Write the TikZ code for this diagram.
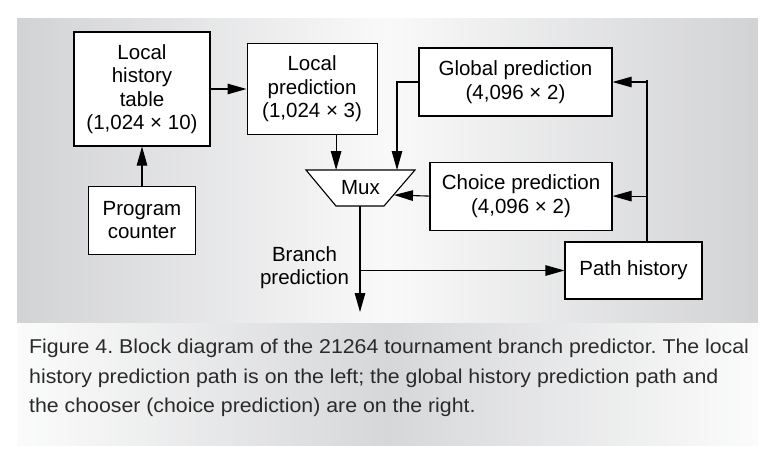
\documentclass[tikz,border=0pt]{standalone}
\usepackage{fontspec}
\setmainfont{Liberation Sans}
\newfontfamily\capfont[FakeStretch=1.065]{Liberation Sans}
\usetikzlibrary{arrows.meta,positioning,calc}
\definecolor{PanelGray}{HTML}{D2D3D5}
\definecolor{PanelLight}{HTML}{F9F9F9}
\definecolor{CapGray}{HTML}{D6D7D9}
\definecolor{CapLight}{HTML}{FBFBFB}
\definecolor{CapText}{HTML}{2A2A2A}
\frenchspacing
\tikzset{
  blockbox/.style={
    rectangle, draw=black, fill=white, line width=1.1pt,
    align=center, font=\fontsize{20.5}{23.5}\selectfont, inner sep=0pt
  },
  blocklabel/.style={align=center, font=\fontsize{20.5}{23}\selectfont, inner sep=0pt},
  sigline/.style={black, line width=1.1pt},
  sigarrow/.style={-{Triangle[length=19pt,width=10.5pt]}, black, line width=1.1pt},
  captext/.style={align=left, font=\capfont\fontsize{20}{29.5}\selectfont, text=CapText, inner sep=0pt},
}

\begin{document}
\begin{tikzpicture}[x=1pt,y=-1pt,node distance=36pt]
    \useasboundingbox (0,0) rectangle (773,463);
    % backgrounds, drawn as thin strips
    \foreach \i in {0,...,147}{
      \pgfmathsetmacro{\mixp}{100*abs(\i-73.5)/73.5}
      \fill[PanelGray!\mixp!PanelLight] ({17+\i*5.007},18) rectangle ({min(17+(\i+1)*5.007+0.6,758)},323);
      \fill[CapLight!\mixp!CapGray] ({17+\i*5.007},323) rectangle ({min(17+(\i+1)*5.007+0.6,758)},446);
    }
    % local history side
    \node[blockbox, minimum width=136pt, minimum height=114pt] (LHT) at (142,89) {Local\\history\\table\\(1,024 × 10)};
    \node[blockbox, minimum width=130pt, minimum height=91pt, right=36pt of LHT] (LP) {Local\\prediction\\(1,024 × 3)};
    \node[blockbox, minimum width=107pt, minimum height=68pt, below=39pt of LHT] (PC) {Program\\counter};
    % mux
    \coordinate (muxTL) at (306,170);
    \coordinate (muxTR) at (415,170);
    \coordinate (muxBR) at (384,206);
    \coordinate (muxBL) at (336,206);
    \draw[sigline, fill=white] (muxTL) -- (muxTR) -- (muxBR) -- (muxBL) -- cycle;
    \node[blocklabel] (Mux) at (360.5,188) {Mux};
    \coordinate (muxG) at (397,170);
    \coordinate (muxC) at (394,195);
    \coordinate (muxOut) at (360,206);
    % global history side
    \node[blockbox, minimum width=193pt, minimum height=68pt] (Global) at (515.5,82) {Global prediction\\(4,096 × 2)};
    \node[blockbox, minimum width=182pt, minimum height=68pt, below=45pt of Global.south east, anchor=north east] (Choice) {Choice prediction\\(4,096 × 2)};
    \node[blockbox, minimum width=137pt, minimum height=57pt] (Path) at (633.5,270.5) {Path history};
    \node[blocklabel] (Branch) at (304.5,267.5) {Branch\\prediction};
    % connections
    \draw[sigarrow] (LHT.east) -- (LHT.east -| LP.west);
    \draw[sigarrow] (PC) -- (LHT);
    \draw[sigarrow] ([xshift=24pt]LP.south) -- ([xshift=24pt]LP.south |- muxTL);
    \draw[sigarrow] (Global.west) -| (muxG);
    \draw[sigarrow] (Choice.west) -- (muxC);
    \coordinate (brOut) at (360,312);
    \draw[sigarrow] (muxOut) -- (brOut);
    \draw[sigarrow] (muxOut |- Path.west) -- (Path.west);
    \coordinate (pTap) at ($(Path.north)+(13.5,0)$);
    \coordinate (pTop) at (647,80);
    \draw[sigline] (pTap) -- (pTop);
    \draw[sigarrow] (pTap |- Global.east) -- (Global.east);
    \draw[sigarrow] (pTap |- Choice.east) -- (Choice.east);
    % caption
    \node[captext, anchor=north west] (Caption) at (29,339) {Figure 4. Block diagram of the 21264 tournament branch predictor. The local\\history prediction path is on the left; the global history prediction path and\\the chooser (choice prediction) are on the right.};
\end{tikzpicture}
\end{document}
